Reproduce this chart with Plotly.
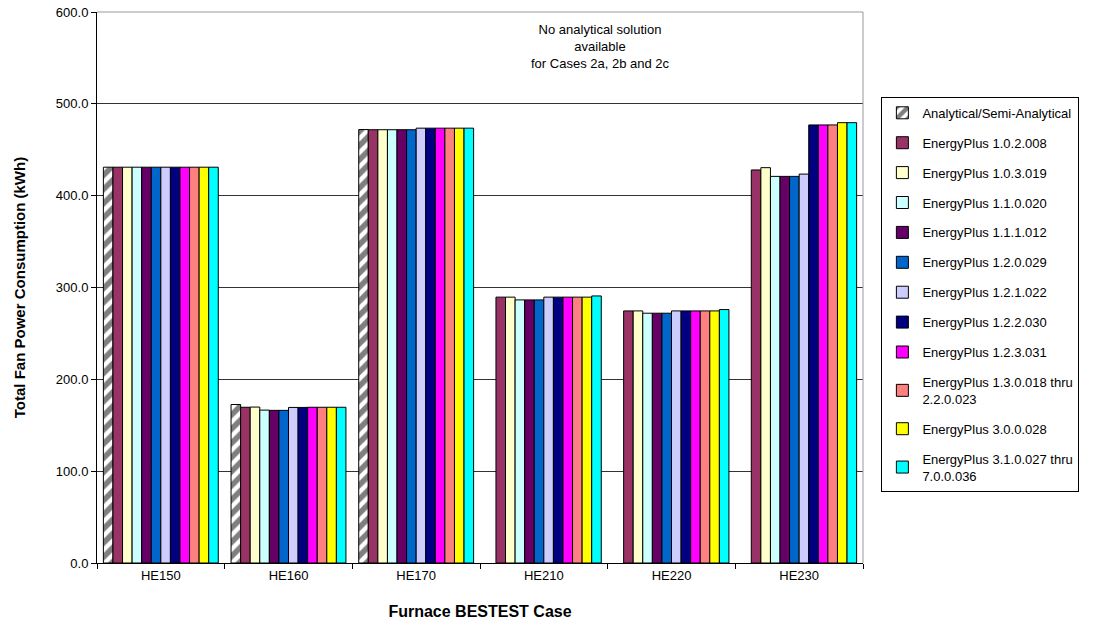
import plotly.graph_objects as go

cases = ["HE150", "HE160", "HE170", "HE210", "HE220", "HE230"]

analytical = [431.0, 172.6, 472.0, None, None, None]

series_names = [
    "EnergyPlus 1.0.2.008",
    "EnergyPlus 1.0.3.019",
    "EnergyPlus 1.1.0.020",
    "EnergyPlus 1.1.1.012",
    "EnergyPlus 1.2.0.029",
    "EnergyPlus 1.2.1.022",
    "EnergyPlus 1.2.2.030",
    "EnergyPlus 1.2.3.031",
    "EnergyPlus 1.3.0.018 thru<br>2.2.0.023",
    "EnergyPlus 3.0.0.028",
    "EnergyPlus 3.1.0.027 thru<br>7.0.0.036",
]

ep_1_0_2_008 = [431.0, 169.6, 471.8, 289.5, 274.5, 428.0]
ep_1_0_3_019 = [431.0, 169.8, 471.8, 289.5, 274.5, 430.5]
ep_1_1_0_020 = [431.0, 166.5, 471.8, 286.5, 272.0, 421.0]
ep_1_1_1_012 = [431.0, 166.2, 471.8, 286.5, 272.0, 421.0]
ep_1_2_0_029 = [431.0, 166.2, 471.8, 286.5, 272.0, 421.0]
ep_1_2_1_022 = [431.0, 169.4, 473.5, 289.5, 274.5, 423.5]
ep_1_2_2_030 = [431.0, 169.4, 473.5, 289.5, 274.5, 477.0]
ep_1_2_3_031 = [431.0, 169.6, 473.5, 289.5, 274.5, 477.0]
ep_1_3_0_018 = [431.0, 169.6, 473.5, 289.5, 274.5, 477.0]
ep_3_0_0_028 = [431.0, 169.6, 473.5, 289.5, 274.5, 479.5]
ep_3_1_0_027 = [431.0, 169.6, 473.5, 290.8, 276.0, 479.5]

series_values = [
    ep_1_0_2_008, ep_1_0_3_019, ep_1_1_0_020, ep_1_1_1_012, ep_1_2_0_029,
    ep_1_2_1_022, ep_1_2_2_030, ep_1_2_3_031, ep_1_3_0_018, ep_3_0_0_028,
    ep_3_1_0_027,
]

series_colors = [
    "#993366", "#FFFFCC", "#CCFFFF", "#660066", "#0066CC", "#CCCCFF",
    "#000080", "#FF00FF", "#FF8080", "#FFFF00", "#00FFFF",
]

y_ticks = [0, 100, 200, 300, 400, 500, 600]

FONT = "Arial, Liberation Sans, sans-serif"

fig = go.Figure()

fig.add_trace(go.Bar(
    x=cases, y=analytical, name="Analytical/Semi-Analytical",
    legendgroup="a",
    marker=dict(
        color="white",
        line=dict(color="black", width=1),
        pattern=dict(shape="/", fgcolor="black", bgcolor="white", size=10, solidity=0.55),
    ),
))

for i, (nm, vals, col) in enumerate(zip(series_names, series_values, series_colors)):
    fig.add_trace(go.Bar(
        x=cases, y=vals, name=nm, legendgroup=f"g{i}",
        marker=dict(color=col, line=dict(color="black", width=1)),
    ))

fig.update_layout(
    width=1101, height=630,
    margin=dict(l=97, r=238, t=12, b=67),
    paper_bgcolor="white", plot_bgcolor="white",
    barmode="group", bargap=0.1, bargroupgap=0,
    font=dict(family=FONT, size=12, color="black"),
    legend=dict(
        x=1.024, xanchor="left", y=0.846, yanchor="top",
        bordercolor="black", borderwidth=1, bgcolor="white",
        font=dict(family=FONT, size=13, color="black"),
        tracegroupgap=10, traceorder="grouped",
        itemwidth=30,
    ),
    showlegend=True,
)

fig.update_xaxes(
    type="category", automargin=False,
    showline=True, linecolor="black", linewidth=1,
    ticks="outside", ticklen=5, tickcolor="black", tickson="boundaries",
    tickfont=dict(family=FONT, size=13, color="black"),
    title=dict(text="<b>Furnace BESTEST Case</b>", font=dict(family=FONT, size=16, color="black"), standoff=24),
)

fig.update_yaxes(
    range=[0, 600], tickvals=y_ticks, tickformat=".1f", automargin=False,
    ticklabeloverflow="allow",
    showline=True, linecolor="black", linewidth=1,
    ticks="outside", ticklen=5, tickcolor="black",
    showgrid=True, gridcolor="#333333", gridwidth=1,
    zeroline=False,
    tickfont=dict(family=FONT, size=13, color="black"),
    title=dict(text="<b>Total Fan Power Consumption (kWh)</b>", font=dict(family=FONT, size=15, color="black"), standoff=26),
)

# frame on top and right (gray)
fig.add_shape(type="line", xref="paper", yref="paper", x0=0, x1=1, y0=1, y1=1,
              line=dict(color="#999999", width=1))
fig.add_shape(type="line", xref="paper", yref="paper", x0=1, x1=1, y0=0, y1=1,
              line=dict(color="#999999", width=1))

fig.add_annotation(
    xref="paper", yref="paper", x=0.657, y=0.985, xanchor="center", yanchor="top",
    text="No analytical solution<br>available<br>for Cases 2a, 2b and 2c",
    showarrow=False, align="center",
    font=dict(family=FONT, size=13, color="black"),
)

fig.write_html(
    "out.html",
    config={"displayModeBar": False},
    post_script="document.body.style.margin='0';document.body.style.overflow='hidden';",
)
